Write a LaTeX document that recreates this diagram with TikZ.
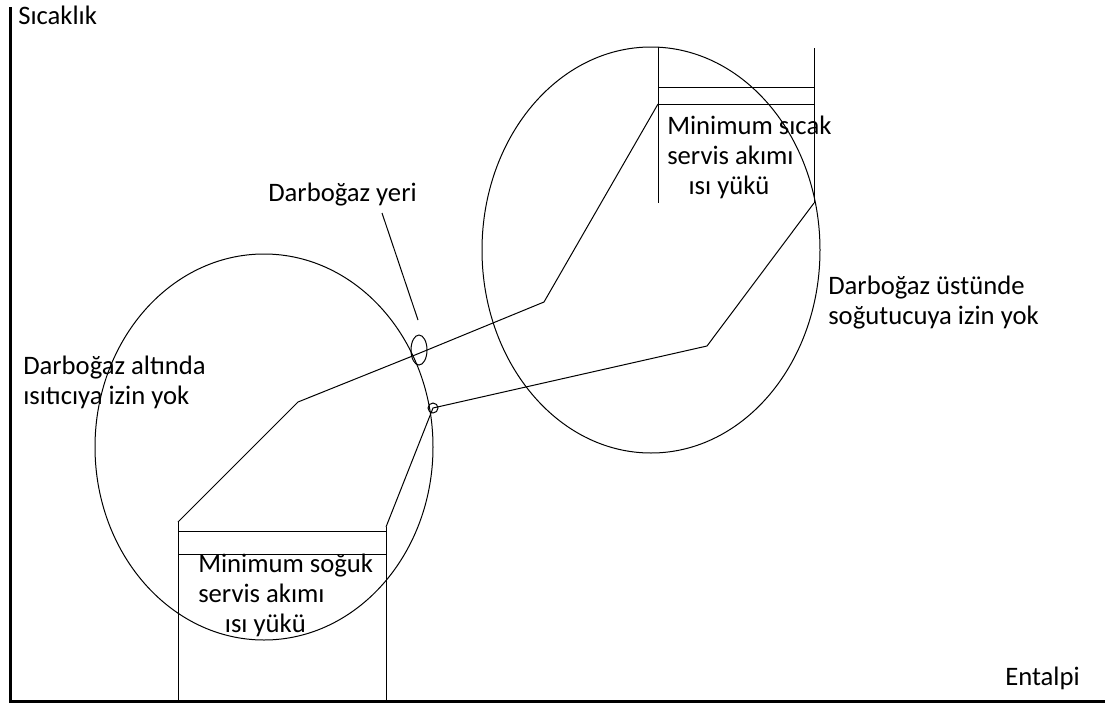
\documentclass[tikz,border=0pt]{standalone}
\usepackage{fontspec}
\setmainfont{Carlito}
\usetikzlibrary{positioning}

\begin{document}
\begin{tikzpicture}[
  x=0.75pt, y=-0.75pt,
  axis/.style={line width=2.25pt},
  thin/.style={line width=0.75pt},
  lbl/.style={font=\fontsize{20pt}{22.5pt}\selectfont, inner sep=0pt,
    anchor=base west, align=left},
]
\useasboundingbox (0,0) rectangle (1110,703);

% axes
\draw[axis] (10,7) -- (10,701) -- (1105,701);
\node[lbl] (tlabel) at (18,24) {Sıcaklık};
\node[lbl] (hlabel) at (1005,685) {Entalpi};

% composite curves
\coordinate (h1) at (178,522);
\coordinate (h2) at (298,402);
\coordinate (h3) at (415,355);
\coordinate (h4) at (544,302);
\coordinate (h5) at (658,104);
\coordinate (c1) at (386,527);
\coordinate (c2) at (433,408);
\coordinate (c3) at (707,346);
\coordinate (c4) at (814,203);
\draw[thin] (h1) -- (h2) -- (h3) -- (h4) -- (h5);
\draw[thin] (c1) -- (c2) -- (c3) -- (c4);

% utility boxes
\draw[thin] (178,522) -- (178,701) (386,527) -- (386,701)
  (178,531) -- (386,531) (178,554) -- (386,554);
\draw[thin] (658,47) -- (658,203) (814,48) -- (814,203)
  (658,87) -- (814,87) (658,104) -- (814,104);

% regions
\draw[thin] (264,447) ellipse [x radius=169, y radius=193];
\draw[thin] (651,250) ellipse [x radius=169, y radius=203];
\draw[thin] (419,350) ellipse [x radius=8, y radius=15];
\draw[thin] (c2) circle [radius=5];

% labels (base = last line)
\node[lbl] (pinch) at (268,201) {Darboğaz yeri};
\coordinate (ptrtop) at (382,213);
\coordinate (ptrend) at (418,320);
\draw[thin] (ptrtop) -- (ptrend);

\node[lbl] (below) at (23,404) {Darboğaz altında\\ısıtıcıya izin yok};
\node[lbl] (above) at (828,324) {Darboğaz üstünde\\soğutucuya izin yok};
\node[lbl] (hotu) at (667,194) {Minimum sıcak\\servis akımı\\\hspace*{16pt}ısı yükü};
\node[lbl] (coldu) at (198,632) {Minimum soğuk\\servis akımı\\\hspace*{20pt}ısı yükü};

\end{tikzpicture}
\end{document}
